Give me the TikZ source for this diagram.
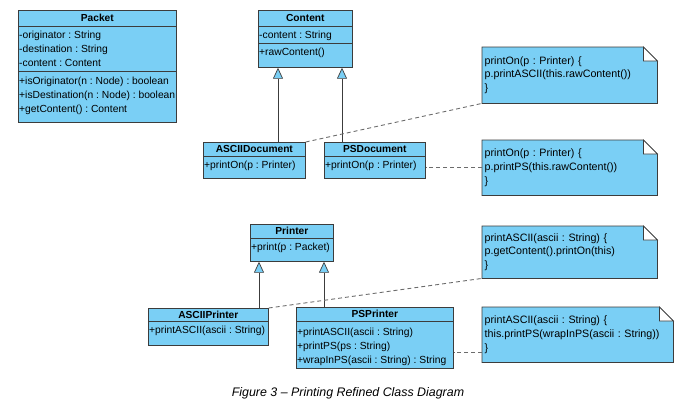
\documentclass[tikz,border=0pt]{standalone}
\usepackage{fontspec}
\setmainfont{Liberation Sans}
\frenchspacing
\usetikzlibrary{arrows.meta,positioning,calc,backgrounds}
\definecolor{classblue}{RGB}{122,207,245}
\definecolor{umlline}{RGB}{60,60,60}
\tikzset{
  classbox/.style   = {draw=umlline, fill=classblue, line width=0.7pt, inner sep=0pt, anchor=north west},
  classname/.style  = {font=\fontsize{10.2}{12}\selectfont\bfseries, inner sep=0pt},
  members/.style    = {font=\fontsize{10.3}{13.8}\selectfont, align=left, anchor=north west, inner sep=1pt},
  compart/.style    = {draw=umlline, line width=0.7pt},
  notebox/.style    = {font=\fontsize{10.7}{13.8}\selectfont, align=left, anchor=north west, inner xsep=2.5pt, inner ysep=0pt},
  noteshape/.style  = {draw=umlline, fill=classblue, line width=0.7pt},
  inherit/.style    = {draw=umlline, line width=0.7pt, -{Triangle[open, width=10pt, length=11pt, fill=classblue]}},
  anchorline/.style = {draw=gray!85!black, line width=0.9pt, dash pattern=on 4pt off 3pt}
}

\begin{document}
\begin{tikzpicture}[x=1pt, y=-1pt]
  \useasboundingbox (0,0) rectangle (681,408);
  % Packet
  \node[classbox, minimum width=158pt, minimum height=112pt] (packet) at (18,10) {};
  \draw[compart] ([yshift=-16pt]packet.north west) -- ([yshift=-16pt]packet.north east);
  \draw[compart] ([yshift=-61pt]packet.north west) -- ([yshift=-61pt]packet.north east);
  \node[classname] (packet-name) at ([yshift=-8pt]packet.north) {Packet};
  \node[members] (packet-attr) at ([yshift=-20pt]packet.north west) {-originator : String\\-destination : String\\-content : Content};
  \node[members] (packet-ops) at ([yshift=-66pt]packet.north west) {+isOriginator(n : Node) : boolean\\+isDestination(n : Node) : boolean\\+getContent() : Content};
  % Content hierarchy
  \node[classbox, minimum width=94pt, minimum height=57pt] (content) at (258,10) {};
  \draw[compart] ([yshift=-16pt]content.north west) -- ([yshift=-16pt]content.north east);
  \draw[compart] ([yshift=-33pt]content.north west) -- ([yshift=-33pt]content.north east);
  \node[classname] (content-name) at ([yshift=-8pt]content.north) {Content};
  \node[members] (content-attr) at ([yshift=-20pt]content.north west) {-content : String};
  \node[members] (content-ops) at ([yshift=-37pt]content.north west) {+rawContent()};

  \node[classbox, minimum width=102pt, minimum height=36pt] (asciidoc) at (203,142) {};
  \draw[compart] ([yshift=-14pt]asciidoc.north west) -- ([yshift=-14pt]asciidoc.north east);
  \node[classname] (asciidoc-name) at ([yshift=-7pt]asciidoc.north) {ASCIIDocument};
  \node[members] (asciidoc-ops) at ([yshift=-18pt]asciidoc.north west) {+printOn(p : Printer)};

  \node[classbox, minimum width=101pt, minimum height=36pt] (psdoc) at (324,142) {};
  \draw[compart] ([yshift=-14pt]psdoc.north west) -- ([yshift=-14pt]psdoc.north east);
  \node[classname] (psdoc-name) at ([yshift=-7pt]psdoc.north) {PSDocument};
  \node[members] (psdoc-ops) at ([yshift=-18pt]psdoc.north west) {+printOn(p : Printer)};
  % Printer hierarchy
  \node[classbox, minimum width=83pt, minimum height=37pt] (printer) at (250,224) {};
  \draw[compart] ([yshift=-14pt]printer.north west) -- ([yshift=-14pt]printer.north east);
  \node[classname] (printer-name) at ([yshift=-7pt]printer.north) {Printer};
  \node[members] (printer-ops) at ([yshift=-18pt]printer.north west) {+print(p : Packet)};

  \node[classbox, minimum width=120pt, minimum height=37pt] (asciiprinter) at (148,308) {};
  \draw[compart] ([yshift=-13pt]asciiprinter.north west) -- ([yshift=-13pt]asciiprinter.north east);
  \node[classname] (asciiprinter-name) at ([yshift=-6.5pt]asciiprinter.north) {ASCIIPrinter};
  \node[members] (asciiprinter-ops) at ([yshift=-17pt]asciiprinter.north west) {+printASCII(ascii : String)};

  \node[classbox, minimum width=157pt, minimum height=61pt] (psprinter) at (296,307) {};
  \draw[compart] ([yshift=-14pt]psprinter.north west) -- ([yshift=-14pt]psprinter.north east);
  \node[classname] (psprinter-name) at ([yshift=-7pt]psprinter.north) {PSPrinter};
  \node[members] (psprinter-ops) at ([yshift=-20pt]psprinter.north west) {+printASCII(ascii : String)\\+printPS(ps : String)\\+wrapInPS(ascii : String) : String};
  % Notes
  \node[notebox, minimum width=175pt, minimum height=56pt, text width=170pt] (note1) at (482,47) {printOn(p : Printer) \{\\p.printASCII(this.rawContent())\\\}};
  \node[notebox, minimum width=175pt, minimum height=55pt, text width=170pt] (note2) at (482,140) {printOn(p : Printer) \{\\p.printPS(this.rawContent())\\\}};
  \node[notebox, minimum width=175pt, minimum height=52pt, text width=170pt] (note3) at (482,226) {printASCII(ascii : String) \{\\p.getContent().printOn(this)\\\}};
  \node[notebox, minimum width=191pt, minimum height=55pt, text width=186pt] (note4) at (482,307) {printASCII(ascii : String) \{\\this.printPS(wrapInPS(ascii : String))\\\}};
  \begin{scope}[on background layer]
    \foreach \n in {note1,note2,note3,note4} {
      \filldraw[noteshape] (\n.north west) -- ([xshift=-14pt]\n.north east) -- ([yshift=-14pt]\n.north east) -- (\n.south east) -- (\n.south west) -- cycle;
      \filldraw[noteshape, fill=white] ([xshift=-14pt]\n.north east) -- ([xshift=-14pt,yshift=-14pt]\n.north east) -- ([yshift=-14pt]\n.north east) -- cycle;
    }
  \end{scope}
  % Generalizations
  \coordinate (g1) at ([xshift=75pt]asciidoc.north west);
  \coordinate (g2) at ([xshift=18pt]psdoc.north west);
  \coordinate (g3) at ([xshift=111pt]asciiprinter.north west);
  \coordinate (g4) at ([xshift=28pt]psprinter.north west);
  \draw[inherit] (g1) -- (g1 |- content.south);
  \draw[inherit] (g2) -- (g2 |- content.south);
  \draw[inherit] (g3) -- (g3 |- printer.south);
  \draw[inherit] (g4) -- (g4 |- printer.south);
  % Note anchors
  \coordinate (n4) at ([yshift=10pt]note4.south west);
  \draw[anchorline] (asciidoc.north east) -- (note1.south west);
  \draw[anchorline] (note2.west) -- (note2.west -| psdoc.east);
  \draw[anchorline] (asciiprinter.north east) -- (note3.south west);
  \draw[anchorline] (n4) -- (n4 -| psprinter.east);
  % Caption
  \node[font=\fontsize{12.4}{14}\selectfont\itshape] (caption) at (348,393) {Figure 3 – Printing Refined Class Diagram};
\end{tikzpicture}
\end{document}
